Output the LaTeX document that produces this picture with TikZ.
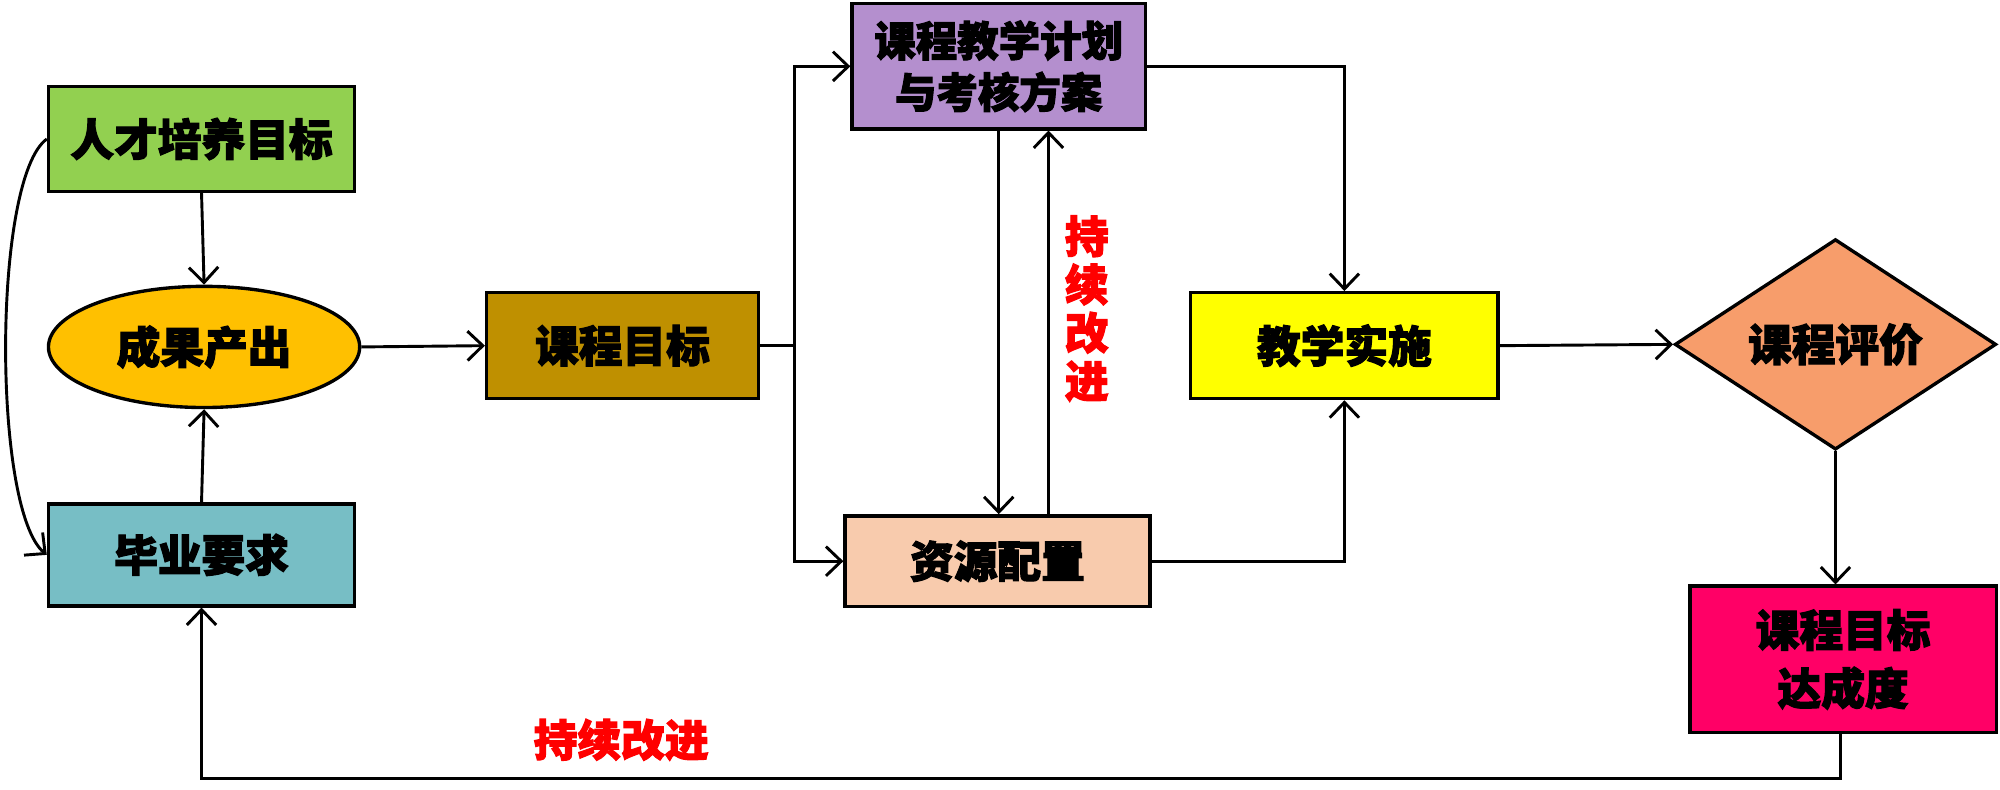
\documentclass[tikz,border=0pt]{standalone}
\usepackage{fontspec}
\newfontfamily\cjk{Noto Sans CJK SC}[BoldFeatures={FakeBold=2.5}]
\usetikzlibrary{arrows.meta,shapes.geometric}
\definecolor{cgreen}{HTML}{92D050}
\definecolor{corange}{HTML}{FFC000}
\definecolor{cteal}{HTML}{77BEC5}
\definecolor{cbrown}{HTML}{BF9000}
\definecolor{cpurple}{HTML}{B48FCE}
\definecolor{cpeach}{HTML}{F8CBAD}
\definecolor{cyellow}{HTML}{FFFF00}
\definecolor{csalmon}{HTML}{F79D6B}
\definecolor{cpink}{HTML}{FF0066}
\definecolor{cred}{HTML}{FF0000}
\tikzset{
  box/.style={draw=black,line width=1.5pt,inner sep=0pt,align=center,
    font=\cjk\bfseries\fontsize{19.5}{24}\selectfont},
  conn/.style={draw=black,line width=1.3pt,-{Straight Barb[length=2.4mm,width=4.6mm,line width=1.3pt]}},
  plainconn/.style={draw=black,line width=1.3pt},
  redtxt/.style={text=cred,font=\cjk\bfseries\fontsize{19.5}{21.5}\selectfont,align=center,inner sep=0pt}
}
\begin{document}
\begin{tikzpicture}[x=0.2mm,y=-0.2mm]
\useasboundingbox (0,0) rectangle (1568,619);
% nodes
\node[box,fill=cgreen,minimum width=48mm,minimum height=16.4mm] (rc) at (158,109) {人才培养目标};
\node[box,ellipse,fill=corange,minimum width=48.8mm,minimum height=19mm] (cg) at (160,272) {成果产出};
\node[box,fill=cteal,minimum width=48mm,minimum height=16mm] (by) at (158,435) {毕业要求};
\node[box,fill=cbrown,minimum width=42.6mm,minimum height=16.6mm] (kg) at (488,271) {课程目标};
\node[box,fill=cpurple,minimum width=46mm,minimum height=19.6mm,font=\cjk\bfseries\fontsize{18.5}{23}\selectfont] (jh) at (783,52) {课程教学计划\\与考核方案};
\node[box,fill=cpeach,minimum width=47.8mm,minimum height=14.2mm] (zy) at (782,440) {资源配置};
\node[box,fill=cyellow,minimum width=48.2mm,minimum height=16.6mm] (ss) at (1054,271) {教学实施};
\node[box,diamond,aspect=1.53,fill=csalmon,minimum width=50.4mm,minimum height=33mm] (pj) at (1439,270) {课程评价};
\node[box,fill=cpink,minimum width=48mm,minimum height=23mm,font=\cjk\bfseries\fontsize{19.5}{26}\selectfont] (dc) at (1445,517) {课程目标\\达成度};
\node[redtxt] (t1) at (852,242) {持\\续\\改\\进};
\node[redtxt,font=\cjk\bfseries\fontsize{19.5}{24}\selectfont] (t2) at (487,580) {持续改进};
\coordinate (j) at (623,271);
\coordinate (b) at (1443,610);
% connectors
\draw[conn] (rc.south) -- (cg.north);
\draw[conn] (by.north) -- (cg.south);
\draw[conn] (rc.west) .. controls (-6,140) and (-6,400) .. (by.west);
\draw[conn] (cg.east) -- (kg.west);
\draw[plainconn] (kg.east) -- (j);
\draw[conn] (j) |- (jh.west);
\draw[conn] (j) |- (zy.west);
\draw[conn] (jh.south) -- (jh.south |- zy.north);
\draw[conn] ([xshift=8mm]zy.north) -- ([xshift=8mm]zy.north |- jh.south);
\draw[conn] (jh.east) -| (ss.north);
\draw[conn] (zy.east) -| (ss.south);
\draw[conn] (ss.east) -- (pj.west);
\draw[conn] (pj.south) -- (pj.south |- dc.north);
\draw[conn] ([xshift=-0.4mm]dc.south) |- (b) -| (by.south);
\end{tikzpicture}
\end{document}
